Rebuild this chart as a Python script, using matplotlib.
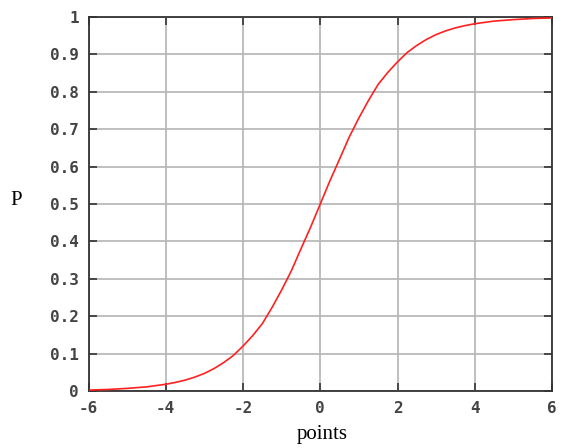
import matplotlib
matplotlib.use("Agg")
import matplotlib.pyplot as plt

# values
points = [-6, -5.5, -5, -4.5, -4, -3.75, -3.5, -3.25, -3, -2.75, -2.5, -2.25,
          -2, -1.75, -1.5, -1.25, -1, -0.75, -0.5, -0.25, 0, 0.25, 0.5, 0.75,
          1, 1.25, 1.5, 1.75, 2, 2.25, 2.5, 2.75, 3, 3.25, 3.5, 3.75, 4,
          4.5, 5, 5.5, 6]
P = [0.0025, 0.004, 0.007, 0.011, 0.018, 0.023, 0.029, 0.037, 0.047, 0.060,
     0.076, 0.095, 0.12, 0.148, 0.18, 0.223, 0.27, 0.321, 0.38, 0.438, 0.5,
     0.562, 0.62, 0.679, 0.73, 0.777, 0.82, 0.852, 0.88, 0.905, 0.924, 0.94,
     0.953, 0.963, 0.971, 0.977, 0.982, 0.989, 0.993, 0.996, 0.9975]
xticks = [-6, -4, -2, 0, 2, 4, 6]
yticks = [0, 0.1, 0.2, 0.3, 0.4, 0.5, 0.6, 0.7, 0.8, 0.9, 1]
ylabels = ["0", "0.1", "0.2", "0.3", "0.4", "0.5", "0.6", "0.7", "0.8", "0.9", "1"]

fig = plt.figure(figsize=(5.63, 4.48), dpi=100)
ax = fig.add_axes([88.5/563, 1-391/448, (552-88.5)/563, (391-17)/448])

ax.plot(points, P, color="#ff2020", lw=1.2, zorder=3)

ax.set_xlim(-6, 6)
ax.set_ylim(0, 1)
ax.set_xticks(xticks)
ax.set_xticklabels([str(t) for t in xticks])
ax.set_yticks(yticks)
ax.set_yticklabels(ylabels)
ax.grid(True, color="#b4b4b4", lw=1.2)
ax.set_axisbelow(True)
ax.tick_params(direction="in", length=6, width=1.2, color="#333333",
               top=True, right=True, pad=7, labelsize=11.5)
for lab in ax.get_xticklabels() + ax.get_yticklabels():
    lab.set_family("DejaVu Sans Mono")
    lab.set_weight("bold")
    lab.set_color("#444444")
for s in ax.spines.values():
    s.set_color("#333333")
    s.set_linewidth(1.3)

ax.set_xlabel("points", family="Liberation Serif", fontsize=15)
ax.set_ylabel("P", family="Liberation Serif", fontsize=15, rotation=0, va="center")
ax.xaxis.set_label_coords(0.504, -0.09)
ax.yaxis.set_label_coords(-0.155, 0.51)

fig.savefig("out.png", dpi=100)
